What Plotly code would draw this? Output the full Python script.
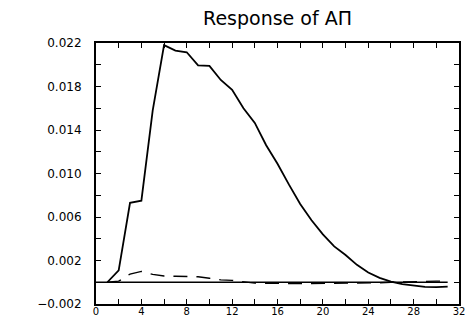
import plotly.graph_objects as go

periods = list(range(1, 32))
response_solid = [0.0, 0.0011, 0.0073, 0.0075, 0.0158, 0.0218, 0.0213, 0.02115, 0.01995, 0.0199,
                  0.0186, 0.0177, 0.0160, 0.01465, 0.0126, 0.0109, 0.0090, 0.0072, 0.0057, 0.0044,
                  0.0033, 0.0025, 0.0016, 0.0009, 0.0004, 0.00005, -0.00017, -0.00033, -0.00042,
                  -0.00044, -0.0004]
response_dashed = [0.0, 0.0001, 0.00075, 0.001, 0.00072, 0.00057, 0.00055, 0.00052, 0.0005, 0.00037,
                   0.00022, 0.00017, 0.00002, -0.00008, -0.0001, -0.00012, -0.00012, -0.00012,
                   -0.00011, -0.0001, -0.0001, -0.0001, -0.0001, -0.0001, -0.00005, 0.0, 0.00004,
                   0.00007, 0.0001, 0.0001, 0.0001]
zero_x = [0, 31]
zero_y = [0.0, 0.0]

x_tickvals = list(range(0, 33, 2))
x_ticktext = [str(v) if v % 4 == 0 else "" for v in x_tickvals]
y_tickvals = [-0.002, 0.0, 0.002, 0.004, 0.006, 0.008, 0.010, 0.012, 0.014, 0.016, 0.018, 0.020, 0.022]
y_ticktext = ["\u22120.002", "", "0.002", "", "0.006", "", "0.010", "", "0.014", "", "0.018", "", "0.022"]

title_text = "Response of A\u03a0"

fig = go.Figure()
fig.add_trace(go.Scatter(x=zero_x, y=zero_y, mode="lines",
                         line=dict(color="black", width=1.5), hoverinfo="skip"))
fig.add_trace(go.Scatter(x=periods, y=response_dashed, mode="lines",
                         line=dict(color="black", width=1.4, dash="14px,9px")))
fig.add_trace(go.Scatter(x=periods, y=response_solid, mode="lines",
                         line=dict(color="black", width=1.8)))

axis_common = dict(showgrid=False, zeroline=False, showline=True, linecolor="black",
                   linewidth=2, mirror="ticks", ticks="inside", ticklen=5, tickwidth=1,
                   tickcolor="black")

fig.update_layout(
    width=471, height=318,
    margin=dict(l=96, r=12, t=43, b=14, autoexpand=False),
    paper_bgcolor="white", plot_bgcolor="white",
    showlegend=False,
    title=dict(text=title_text, x=277.5 / 471, xanchor="center", y=1 - 18 / 318,
               yanchor="middle", font=dict(family="DejaVu Sans", size=19, color="black")),
    xaxis=dict(range=[0, 32], tickmode="array", tickvals=x_tickvals, ticktext=x_ticktext,
               automargin=False, ticklabelstandoff=-3,
               tickfont=dict(family="DejaVu Sans", size=10, color="black"), **axis_common),
    yaxis=dict(range=[-0.002, 0.022], tickmode="array", tickvals=y_tickvals, ticktext=y_ticktext,
               automargin=False, ticklabelstandoff=10,
               tickfont=dict(family="DejaVu Sans", size=12, color="black"), **axis_common),
)

fig.write_html("out.html", config={"displayModeBar": False},
               post_script="document.body.style.margin='0';document.body.style.overflow='hidden';")
